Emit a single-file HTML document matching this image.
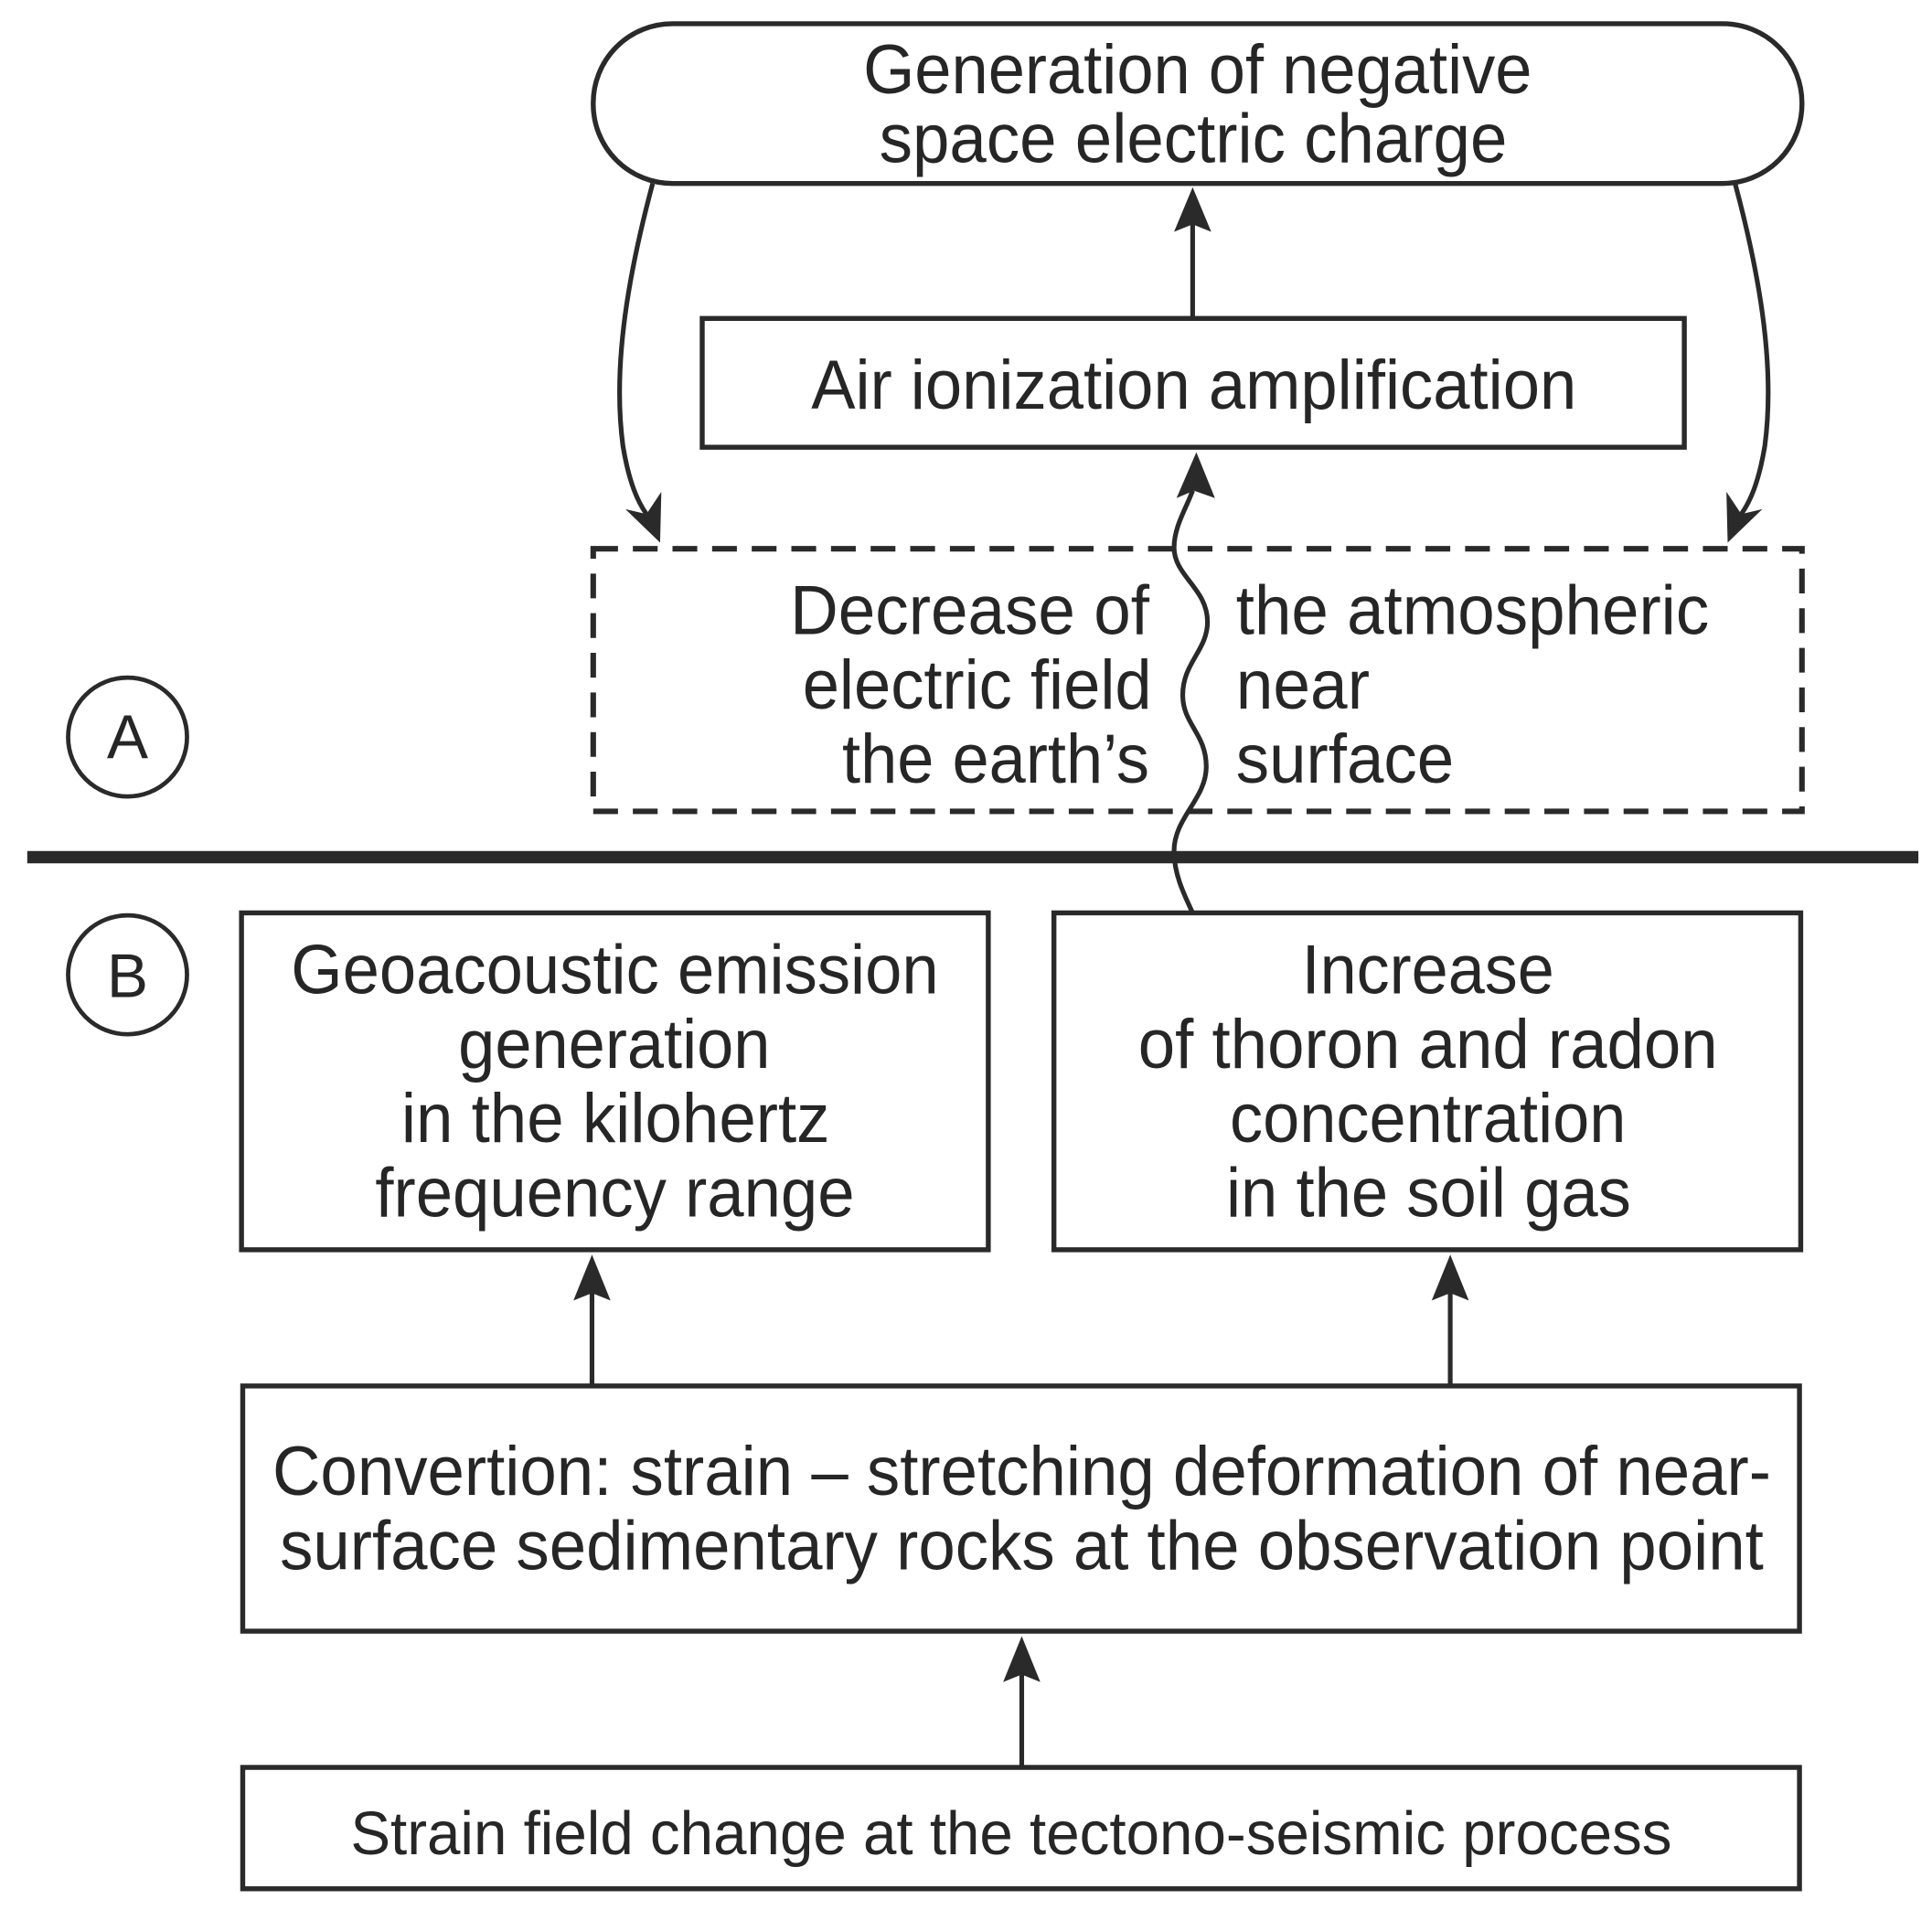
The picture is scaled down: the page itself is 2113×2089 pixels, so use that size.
<!DOCTYPE html>
<html><head><meta charset="utf-8"><style>
html,body{margin:0;padding:0;background:#fff;}
svg{display:block;}
text{font-family:"Liberation Sans",Arial,sans-serif;fill:#262626;}
</style></head><body>
<svg width="2113" height="2089" viewBox="0 0 1560 1542" xmlns="http://www.w3.org/2000/svg">
<rect width="1560" height="1542" fill="#fff"/>
<g fill="none" stroke="#2a2a2a" stroke-width="4">
<rect x="479" y="19" width="976" height="129" rx="64" ry="64"/>
<rect x="567" y="257" width="793" height="104"/>
<rect x="479" y="443" width="976" height="212" stroke-dasharray="20 12" stroke-width="4.5"/>
<rect x="195" y="737" width="603" height="272"/>
<rect x="851" y="737" width="603" height="272"/>
<rect x="196" y="1119" width="1257" height="198"/>
<rect x="196" y="1427" width="1257" height="98"/>
<circle cx="103" cy="595" r="48" stroke-width="3.5"/>
<circle cx="103" cy="787" r="48" stroke-width="3.5"/>
</g>
<line x1="22" y1="692" x2="1549" y2="692" stroke="#2a2a2a" stroke-width="10"/>
<g fill="none" stroke="#2a2a2a" stroke-width="3.8">
<line x1="963" y1="257" x2="963" y2="180"/>
<path d="M527,148 C505,230 495,300 503,360 C508,390 515,405 522,415"/>
<path d="M1401,148 C1423,230 1433,300 1425,360 C1420,390 1413,405 1406,415"/>
<path d="M963,737 C955,720 948,705 948,687 C948,660 974,645 974,619 C974,592 955,585 955,561 C955,535 975,525 975,502 C975,475 948,465 948,442 C948,425 958,410 963,396"/>
<line x1="478" y1="1119" x2="478" y2="1040"/>
<line x1="1171" y1="1119" x2="1171" y2="1040"/>
<line x1="825" y1="1427" x2="825" y2="1350"/>
</g>
<g fill="#2a2a2a">
<polygon points="963,151 948,187 963,181 978,187"/>
<polygon points="533,438 505,411 522,415 534,397"/>
<polygon points="1395,438 1423,411 1406,415 1394,397"/>
<polygon points="966,365 950,402 964,396 981,402"/>
<polygon points="478,1013 463,1050 478,1044 493,1050"/>
<polygon points="1171,1013 1156,1050 1171,1044 1186,1050"/>
<polygon points="825,1321 810,1358 825,1352 840,1358"/>
</g>
<g font-size="56" lengthAdjust="spacingAndGlyphs">
<text x="697" y="75" textLength="540" lengthAdjust="spacingAndGlyphs">Generation of negative</text>
<text x="710" y="131" textLength="507" lengthAdjust="spacingAndGlyphs">space electric charge</text>
<text x="655" y="330" textLength="618" lengthAdjust="spacingAndGlyphs">Air ionization amplification</text>
<text x="638" y="512" textLength="290" lengthAdjust="spacingAndGlyphs">Decrease of</text>
<text x="648" y="572" textLength="282" lengthAdjust="spacingAndGlyphs">electric field</text>
<text x="680" y="632" textLength="248" lengthAdjust="spacingAndGlyphs">the earth’s</text>
<text x="998" y="512" textLength="382" lengthAdjust="spacingAndGlyphs">the atmospheric</text>
<text x="998" y="572" textLength="108" lengthAdjust="spacingAndGlyphs">near</text>
<text x="998" y="632" textLength="176" lengthAdjust="spacingAndGlyphs">surface</text>
<text x="103" y="612" text-anchor="middle" font-size="50">A</text>
<text x="103" y="805" text-anchor="middle" font-size="50">B</text>
<text x="235" y="802" textLength="523" lengthAdjust="spacingAndGlyphs">Geoacoustic emission</text>
<text x="370" y="862" textLength="252" lengthAdjust="spacingAndGlyphs">generation</text>
<text x="324" y="922" textLength="346" lengthAdjust="spacingAndGlyphs">in the kilohertz</text>
<text x="303" y="982" textLength="387" lengthAdjust="spacingAndGlyphs">frequency range</text>
<text x="1051" y="802" textLength="204" lengthAdjust="spacingAndGlyphs">Increase</text>
<text x="919" y="862" textLength="468" lengthAdjust="spacingAndGlyphs">of thoron and radon</text>
<text x="993" y="922" textLength="320" lengthAdjust="spacingAndGlyphs">concentration</text>
<text x="990" y="982" textLength="327" lengthAdjust="spacingAndGlyphs">in the soil gas</text>
<text x="220" y="1207" textLength="1210" lengthAdjust="spacingAndGlyphs">Convertion: strain – stretching deformation of near-</text>
<text x="226" y="1267" textLength="1198" lengthAdjust="spacingAndGlyphs">surface sedimentary rocks at the observation point</text>
<text x="283" y="1497" font-size="49" textLength="1067" lengthAdjust="spacingAndGlyphs">Strain field change at the tectono-seismic process</text>
</g>
</svg>
</body></html>
